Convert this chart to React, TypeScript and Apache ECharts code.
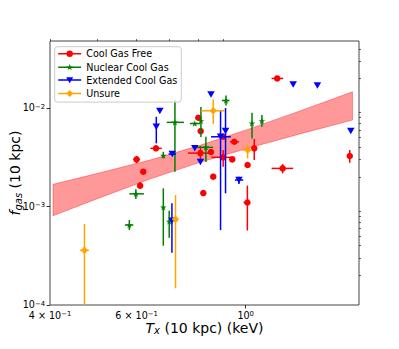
import React, { useEffect, useRef } from 'react';
import * as echarts from 'echarts';

// ---- Data (T_x in keV, f_gas) ----
// Cool Gas Free (red circles)
const freeT = [1.159, 1.628, 1.189, 1.008, 1.009, 1.041, 0.948, 0.939, 0.9, 0.9, 0.859, 0.82, 0.85, 0.809, 0.81, 0.801, 0.657, 0.6, 0.619, 0.61];
const freeF = [0.02, 0.00326, 0.00244, 0.0011, 0.00264, 0.0039, 0.00455, 0.00301, 0.00316, 0.00511, 0.00201, 0.00137, 0.00358, 0.00349, 0.00584, 0.00797, 0.0039, 0.00301, 0.00226, 0.00163];
const freeTErr = [[1.129, 1.192], null, [1.129, 1.249], [0.99, 1.02], null, null, [0.929, 0.969], null, [0.852, 0.949], null, null, null, null, [0.763, 0.854], null, null, [0.64, 0.675], [0.591, 0.61], null, null];
const freeFErr = [null, [0.00278, 0.00375], [0.00217, 0.0027], [0.000571, 0.00163], null, [0.00297, 0.00484], null, null, [0.00254, 0.00375], null, null, null, null, [0.00297, 0.00411], null, null, null, [0.00276, 0.00326], null, [0.00151, 0.00177]];

// Nuclear Cool Gas (green stars)
const nucT = [0.912, 0.718, 0.788, 0.811, 1.03, 1.079, 0.83, 0.68, 0.598, 0.58, 0.68, 0.699];
const nucF = [0.01192, 0.00716, 0.00696, 0.00738, 0.007, 0.00738, 0.00399, 0.0033, 0.001345, 0.000649, 0.000982, 0.000704];
const nucTErr = [[0.895, 0.927], [0.691, 0.749], [0.77, 0.807], null, null, null, [0.782, 0.859], null, [0.58, 0.621], [0.568, 0.591], null, null];
const nucFErr = [[0.0106, 0.0134], [0.00226, 0.01206], null, [0.00508, 0.01024], [0.00492, 0.00896], [0.00646, 0.00849], [0.00283, 0.00511], [0.00309, 0.0036], [0.001192, 0.001495], [0.000577, 0.000729], [0.0004, 0.00153], [0.000482, 0.000907]];

// Extended Cool Gas (blue down-triangles)
const extT = [1.249, 1.399, 1.636, 0.85, 0.669, 0.658, 0.889, 0.91, 0.969, 0.788, 0.809, 0.709, 0.708];
const extF = [0.0174, 0.017, 0.00584, 0.0137, 0.00932, 0.00646, 0.00511, 0.00584, 0.00186, 0.0039, 0.00283, 0.00341, 0.000718];
const extTErr = [null, null, null, null, null, null, [0.85, 0.933], null, [0.951, 0.989], null, null, [0.697, 0.721], null];
const extFErr = [null, null, null, null, null, [0.00438, 0.00816], [0.000577, 0.00954], [0.00136, 0.01], [0.00169, 0.00201], null, null, null, [0.00034, 0.00108]];

// Unsure (orange diamonds)
const unsT = [0.859, 1.009, 0.72, 0.47];
const unsF = [0.00939, 0.00375, 0.000742, 0.000359];
const unsTErr = [[0.811, 0.907], [0.986, 1.028], [0.709, 0.729], [0.46, 0.48]];
const unsFErr = [[0.00688, 0.0122], [0.00309, 0.00438], [0.000148, 0.00131], [0.00005, 0.000664]];

// Fit confidence band
const bandT = [0.4057, 0.5055, 0.6388, 0.8071, 1.02, 1.289, 1.649];
const bandUpper = [0.00168, 0.002203, 0.002965, 0.004181, 0.006178, 0.009346, 0.01464];
const bandLower = [0.000806, 0.001229, 0.001902, 0.00281, 0.003963, 0.00546, 0.007554];

// Axes
const xMin = 0.4;
const xMax = 1.7;
const yMin = 1e-4;
const yMax = 0.048;
const xMajorTicks = [1.0];
const xMinorTicks = [0.4, 0.5, 0.6, 0.7, 0.8, 0.9];
const xLabelValues = [0.4, 0.6, 1.0];
const xLabelBase = ['4 × 10', '6 × 10', '10'];
const xLabelExp = ['−1', '−1', '0'];
const yMajorTicks = [1e-4, 1e-3, 1e-2];
const yMinorTicks = [2e-4, 3e-4, 4e-4, 5e-4, 6e-4, 7e-4, 8e-4, 9e-4, 2e-3, 3e-3, 4e-3, 5e-3, 6e-3, 7e-3, 8e-3, 9e-3, 2e-2, 3e-2, 4e-2];

const seriesNames = ['Cool Gas Free', 'Nuclear Cool Gas', 'Extended Cool Gas', 'Unsure'];
const seriesColors = ['#ff0000', '#008000', '#0000ff', '#ffa500'];

const FONT = 'DejaVu Sans';

function starPts(cx: number, cy: number, ro: number, ri: number) {
  const pts: string[] = [];
  for (let k = 0; k < 10; k++) {
    const a = -Math.PI / 2 + (k * Math.PI) / 5;
    const r = k % 2 === 0 ? ro : ri;
    pts.push((cx + r * Math.cos(a)).toFixed(3) + ',' + (cy + r * Math.sin(a)).toFixed(3));
  }
  return 'M' + pts.join(' L') + ' Z';
}

const starSymbol = 'path://' + starPts(10, 10, 10, 4);
const lineRect = 'M0,4.75 L23,4.75 L23,6.25 L0,6.25 Z ';
const iconCircle = 'path://' + lineRect + 'M8.3,5.5 A3.2,3.2 0 1,1 14.7,5.5 A3.2,3.2 0 1,1 8.3,5.5 Z';
const iconStar = 'path://' + lineRect + starPts(11.5, 5.5, 3.4, 1.4);
const iconTri = 'path://' + lineRect + 'M8,2.7 L15,2.7 L11.5,8.8 Z';
const iconDiamond = 'path://' + lineRect + 'M11.5,2 L15,5.5 L11.5,9 L8,5.5 Z';

function rows(T: number[], F: number[], TE: (number[] | null)[], FE: (number[] | null)[]) {
  return T.map((t, i) => [
    t,
    F[i],
    TE[i] ? (TE[i] as number[])[0] : t,
    TE[i] ? (TE[i] as number[])[1] : t,
    FE[i] ? (FE[i] as number[])[0] : F[i],
    FE[i] ? (FE[i] as number[])[1] : F[i],
  ]);
}

const groups = [
  rows(freeT, freeF, freeTErr, freeFErr),
  rows(nucT, nucF, nucTErr, nucFErr),
  rows(extT, extF, extTErr, extFErr),
  rows(unsT, unsF, unsTErr, unsFErr),
];

const symbols: any[] = [
  { symbol: 'circle', symbolSize: 6.5 },
  { symbol: starSymbol, symbolSize: 6.5 },
  { symbol: 'triangle', symbolSize: [7.5, 6.5], symbolRotate: 180 },
  { symbol: 'diamond', symbolSize: [7, 8] },
];

function errRender(color: string) {
  return (params: any, api: any) => {
    const t = api.value(0);
    const f = api.value(1);
    const c = api.coord([t, f]);
    const xa = api.coord([api.value(2), f]);
    const xb = api.coord([api.value(3), f]);
    const ya = api.coord([t, api.value(4)]);
    const yb = api.coord([t, api.value(5)]);
    const st = { stroke: color, lineWidth: 1.5 };
    const children: any[] = [];
    if (Math.abs(xb[0] - xa[0]) > 0.5) {
      children.push({ type: 'line', shape: { x1: xa[0], y1: c[1], x2: xb[0], y2: c[1] }, style: st });
    }
    if (Math.abs(yb[1] - ya[1]) > 0.5) {
      children.push({ type: 'line', shape: { x1: c[0], y1: ya[1], x2: c[0], y2: yb[1] }, style: st });
    }
    return { type: 'group', children };
  };
}

const xTickRich = {
  b: { fontFamily: FONT, fontSize: 9.6, color: '#000', verticalAlign: 'bottom', lineHeight: 10 },
  s: { fontFamily: FONT, fontSize: 6.8, color: '#000', verticalAlign: 'top', lineHeight: 8, padding: [0, 0, 4, 0] },
};
const yTickRich = {
  b: { fontFamily: FONT, fontSize: 9.6, color: '#000', verticalAlign: 'bottom', lineHeight: 9.5 },
  s: { fontFamily: FONT, fontSize: 6.8, color: '#000', verticalAlign: 'top', lineHeight: 7.5, padding: [0, 0, 2, 0] },
};

export default function App() {
  const ref = useRef<HTMLDivElement>(null);
  useEffect(() => {
    if (!ref.current) return;
    const chart = echarts.init(ref.current, null, { renderer: 'svg' });

    const series: any[] = [];
    series.push({
      type: 'custom',
      name: 'band',
      data: [[bandT[0], bandLower[0]]],
      encode: { x: 0, y: 1 },
      silent: true,
      z: 1,
      renderItem: (params: any, api: any) => {
        const pts: number[][] = [];
        for (let i = 0; i < bandT.length; i++) pts.push(api.coord([bandT[i], bandUpper[i]]));
        for (let i = bandT.length - 1; i >= 0; i--) pts.push(api.coord([bandT[i], bandLower[i]]));
        return {
          type: 'polygon',
          shape: { points: pts },
          style: { fill: 'rgba(255,0,0,0.4)', stroke: 'rgba(255,0,0,0.45)', lineWidth: 0.8 },
        };
      },
    });
    groups.forEach((g, gi) => {
      series.push({
        type: 'custom',
        name: 'err' + gi,
        data: g,
        encode: { x: 0, y: 1 },
        clip: true,
        silent: true,
        z: 2 + gi * 2,
        renderItem: errRender(seriesColors[gi]),
      });
      series.push({
        type: 'scatter',
        name: seriesNames[gi],
        data: g.map((r) => [r[0], r[1]]),
        ...symbols[gi],
        itemStyle: { color: seriesColors[gi], opacity: 1 },
        emphasis: { disabled: true },
        silent: true,
        z: 3 + gi * 2,
      });
    });

    const option: any = {
      animation: false,
      backgroundColor: '#ffffff',
      grid: {
        left: 50,
        right: 40,
        top: 41,
        bottom: 44,
        show: true,
        borderColor: '#444',
        borderWidth: 1,
        backgroundColor: 'transparent',
        containLabel: false,
      },
      xAxis: [
        {
          type: 'log',
          logBase: 10,
          min: xMin,
          max: xMax,
          axisLine: { show: false },
          splitLine: { show: false },
          minorTick: { show: false },
          axisTick: { show: true, length: 3.5, lineStyle: { color: '#000', width: 0.8 }, customValues: xMajorTicks },
          axisLabel: {
            customValues: xLabelValues,
            margin: 5,
            formatter: (v: number) => {
              const i = xLabelValues.findIndex((u) => Math.abs(u - v) < 1e-6);
              if (i < 0) return '';
              return '{b|' + xLabelBase[i] + '}{s|' + xLabelExp[i] + '}';
            },
            rich: xTickRich,
          },
        },
        {
          type: 'log',
          logBase: 10,
          min: xMin,
          max: xMax,
          axisLine: { show: false },
          splitLine: { show: false },
          axisTick: { show: true, length: 2, lineStyle: { color: '#000', width: 0.6 }, customValues: xMinorTicks },
          axisLabel: { show: false },
        },
      ],
      yAxis: [
        {
          type: 'log',
          logBase: 10,
          min: yMin,
          max: yMax,
          axisLine: { show: false },
          splitLine: { show: false },
          axisTick: { show: true, length: 3.5, lineStyle: { color: '#000', width: 0.8 }, customValues: yMajorTicks },
          axisLabel: {
            customValues: yMajorTicks,
            margin: 5,
            formatter: (v: number) => {
              const e = Math.round(Math.log10(v));
              return '{b|10}{s|' + (e < 0 ? '−' + -e : String(e)) + '}';
            },
            rich: yTickRich,
          },
        },
        {
          type: 'log',
          logBase: 10,
          min: yMin,
          max: yMax,
          axisLine: { show: false },
          splitLine: { show: false },
          axisTick: { show: true, length: 2, lineStyle: { color: '#000', width: 0.6 }, customValues: yMinorTicks },
          axisLabel: { show: false },
        },
      ],
      legend: {
        orient: 'vertical',
        left: 54.7,
        top: 46.7,
        padding: [2, 4, 3.5, 3.5],
        itemGap: 3.3,
        itemWidth: 23,
        itemHeight: 11,
        selectedMode: false,
        backgroundColor: 'rgba(255,255,255,0.8)',
        borderColor: '#cccccc',
        borderWidth: 1,
        borderRadius: 3,
        textStyle: { fontFamily: FONT, fontSize: 9.6, color: '#000' },
        data: [
          { name: seriesNames[0], icon: iconCircle },
          { name: seriesNames[1], icon: iconStar },
          { name: seriesNames[2], icon: iconTri },
          { name: seriesNames[3], icon: iconDiamond },
        ],
        z: 20,
      },
      graphic: [
        {
          type: 'text',
          x: 15,
          y: 173,
          rotation: Math.PI / 2,
          silent: true,
          style: {
            text: '{i|f}{sub|gas}{n| (10 kpc)}',
            align: 'center',
            verticalAlign: 'middle',
            rich: {
              i: { fontFamily: FONT, fontSize: 14, fontStyle: 'italic', fill: '#000' },
              sub: { fontFamily: FONT, fontSize: 10, fontStyle: 'italic', fill: '#000', padding: [7, 0, 0, 0] },
              n: { fontFamily: FONT, fontSize: 14, fill: '#000' },
            },
          },
        },
        {
          type: 'text',
          x: 204.5,
          y: 328,
          silent: true,
          style: {
            text: '{i|T}{sub|x}{n| (10 kpc) (keV)}',
            align: 'center',
            verticalAlign: 'middle',
            rich: {
              i: { fontFamily: FONT, fontSize: 14, fontStyle: 'italic', fill: '#000' },
              sub: { fontFamily: FONT, fontSize: 10, fontStyle: 'italic', fill: '#000', padding: [5, 0, 0, 0] },
              n: { fontFamily: FONT, fontSize: 14, fill: '#000' },
            },
          },
        },
      ],
      series,
    };
    chart.setOption(option);
    return () => {
      chart.dispose();
    };
  }, []);
  return (
    <div
      ref={ref}
      style={{ position: 'fixed', left: 0, top: 0, width: 399, height: 349, background: '#fff' }}
    />
  );
}
